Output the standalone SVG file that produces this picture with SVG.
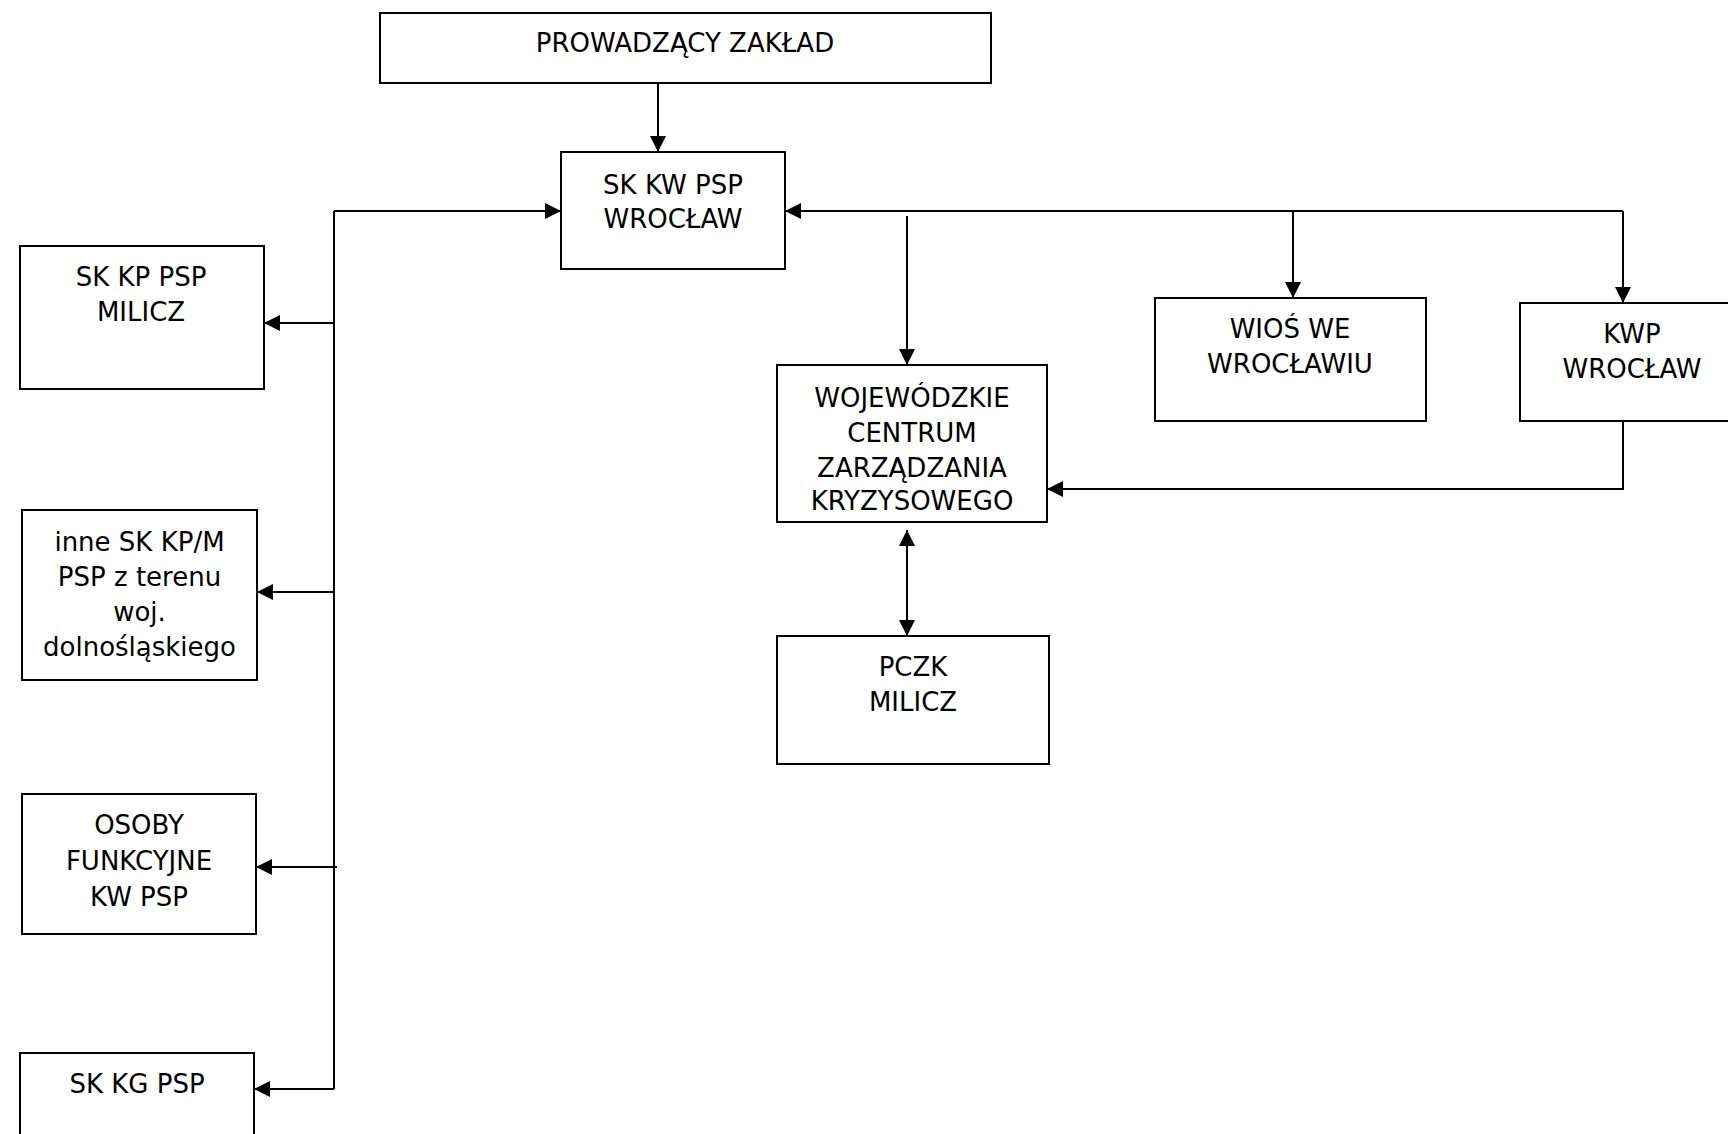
<svg xmlns="http://www.w3.org/2000/svg" width="1728" height="1134" viewBox="0 0 1728 1134">
<style>
.box{fill:#fff;stroke:#000;stroke-width:2}
.t{font-family:"DejaVu Sans",Verdana,sans-serif;font-size:26px;fill:#000;text-anchor:middle}
.c{fill:none;stroke:#000;stroke-width:2}
</style>
<defs>
<marker id="ah" markerUnits="userSpaceOnUse" markerWidth="16" markerHeight="16" viewBox="0 0 15 15" refX="15" refY="7.5" orient="auto-start-reverse">
<path d="M0,0 L15,7.5 L0,15 z" fill="#000"/>
</marker>
</defs>
<rect width="1728" height="1134" fill="#fff"/>
<g id="connectors">
<path class="c" d="M658,83 V152" marker-end="url(#ah)"/>
<path class="c" d="M334,211 H561" marker-end="url(#ah)"/>
<path class="c" d="M334,211 V1089"/>
<path class="c" d="M334,323 H264" marker-end="url(#ah)"/>
<path class="c" d="M334,592 H257" marker-end="url(#ah)"/>
<path class="c" d="M337,867 H256" marker-end="url(#ah)"/>
<path class="c" d="M334,1089 H254" marker-end="url(#ah)"/>
<path class="c" d="M1623,211 H785" marker-end="url(#ah)"/>
<path class="c" d="M1623,211 V303" marker-end="url(#ah)"/>
<path class="c" d="M1293,212 V298" marker-end="url(#ah)"/>
<path class="c" d="M907,216 V365" marker-end="url(#ah)"/>
<path class="c" d="M1623,421 V489 H1047" marker-end="url(#ah)"/>
<path class="c" d="M907,530 V636" marker-start="url(#ah)" marker-end="url(#ah)"/>
</g>
<g id="prowadzacy"><rect class="box" x="380" y="13" width="611" height="70"/><text class="t" x="685" y="52">PROWADZĄCY ZAKŁAD</text></g>
<g id="skkw"><rect class="box" x="561" y="152" width="224" height="117"/><text class="t" x="673" y="194">SK KW PSP</text><text class="t" x="673" y="228">WROCŁAW</text></g>
<g id="skkp"><rect class="box" x="20" y="246" width="244" height="143"/><text class="t" x="141" y="286">SK KP PSP</text><text class="t" x="141" y="321">MILICZ</text></g>
<g id="inne"><rect class="box" x="22" y="510" width="235" height="170"/><text class="t" x="139.5" y="551">inne SK KP/M</text><text class="t" x="139.5" y="586">PSP z terenu</text><text class="t" x="139.5" y="621">woj.</text><text class="t" x="139.5" y="656">dolnośląskiego</text></g>
<g id="osoby"><rect class="box" x="22" y="794" width="234" height="140"/><text class="t" x="139" y="834">OSOBY</text><text class="t" x="139" y="870">FUNKCYJNE</text><text class="t" x="139" y="906">KW PSP</text></g>
<g id="skkg"><rect class="box" x="20" y="1053" width="234" height="100"/><text class="t" x="137" y="1093">SK KG PSP</text></g>
<g id="wczk"><rect class="box" x="777" y="365" width="270" height="157"/><text class="t" x="912" y="407">WOJEWÓDZKIE</text><text class="t" x="912" y="442">CENTRUM</text><text class="t" x="912" y="477">ZARZĄDZANIA</text><text class="t" x="912" y="510">KRYZYSOWEGO</text></g>
<g id="wios"><rect class="box" x="1155" y="298" width="271" height="123"/><text class="t" x="1290" y="338">WIOŚ WE</text><text class="t" x="1290" y="373">WROCŁAWIU</text></g>
<g id="kwp"><rect class="box" x="1520" y="303" width="225" height="118"/><text class="t" x="1632" y="343">KWP</text><text class="t" x="1632" y="378">WROCŁAW</text></g>
<g id="pczk"><rect class="box" x="777" y="636" width="272" height="128"/><text class="t" x="913" y="676">PCZK</text><text class="t" x="913" y="711">MILICZ</text></g>
</svg>
